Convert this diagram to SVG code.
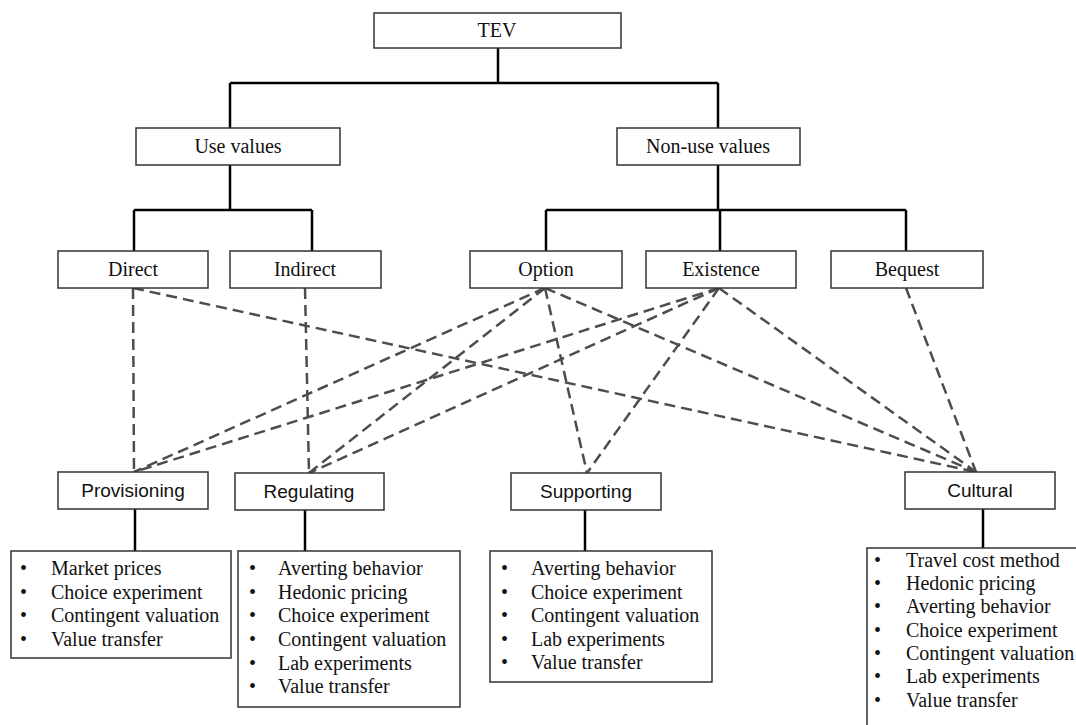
<svg xmlns="http://www.w3.org/2000/svg" width="1076" height="725" viewBox="0 0 1076 725">
<style>
.box{fill:#fff;stroke:#333;stroke-width:1.5}
.solid{fill:none;stroke:#000;stroke-width:2.5}
.dash{fill:none;stroke:#4d4d4d;stroke-width:2.5;stroke-dasharray:11 6}
.serif{font-family:"Liberation Serif","Times New Roman",serif;font-size:20px;fill:#111}
.sans{font-family:"Liberation Sans",Arial,sans-serif;font-size:19px;fill:#111}
.mid{text-anchor:middle}
</style>
<rect width="1076" height="725" fill="#fff"/>
<g id="connectors">
<path class="solid" d="M498 48V83M230 83H718M230 83V128M718 83V128"/>
<path class="solid" d="M230 165V210M134 210H312M134 210V251M312 210V251"/>
<path class="solid" d="M718 165V210M546 210H906M546 210V251M720 210V251M906 210V251"/>
<path class="solid" d="M135 509V551M305 510V551M585 510V551M983 509V548"/>
<g class="dash">
<line x1="133" y1="288" x2="134" y2="472"/>
<line x1="133" y1="288" x2="976" y2="472"/>
<line x1="305" y1="288" x2="309" y2="473"/>
<line x1="545" y1="288" x2="134" y2="472"/>
<line x1="545" y1="288" x2="309" y2="473"/>
<line x1="545" y1="288" x2="587" y2="473"/>
<line x1="545" y1="288" x2="976" y2="472"/>
<line x1="719" y1="288" x2="134" y2="472"/>
<line x1="719" y1="288" x2="309" y2="473"/>
<line x1="719" y1="288" x2="587" y2="473"/>
<line x1="719" y1="288" x2="976" y2="472"/>
<line x1="906" y1="288" x2="976" y2="472"/>
</g>
</g>
<g id="tev"><rect class="box" x="374" y="13" width="247" height="35"/><text class="serif mid" x="497" y="37">TEV</text></g>
<g id="use-values"><rect class="box" x="136" y="128" width="204" height="37"/><text class="serif mid" x="238" y="153">Use values</text></g>
<g id="non-use-values"><rect class="box" x="617" y="128" width="183" height="37"/><text class="serif mid" x="708" y="153">Non-use values</text></g>
<g id="direct"><rect class="box" x="58" y="251" width="150" height="37"/><text class="serif mid" x="133" y="276">Direct</text></g>
<g id="indirect"><rect class="box" x="230" y="251" width="151" height="37"/><text class="serif mid" x="305" y="276">Indirect</text></g>
<g id="option"><rect class="box" x="470" y="251" width="152" height="37"/><text class="serif mid" x="546" y="276">Option</text></g>
<g id="existence"><rect class="box" x="646" y="251" width="150" height="37"/><text class="serif mid" x="721" y="276">Existence</text></g>
<g id="bequest"><rect class="box" x="831" y="251" width="152" height="37"/><text class="serif mid" x="907" y="276">Bequest</text></g>
<g id="provisioning"><rect class="box" x="58" y="472" width="150" height="37"/><text class="sans mid" x="133" y="497">Provisioning</text></g>
<g id="regulating"><rect class="box" x="235" y="473" width="149" height="37"/><text class="sans mid" x="309" y="498">Regulating</text></g>
<g id="supporting"><rect class="box" x="511" y="473" width="150" height="37"/><text class="sans mid" x="586" y="498">Supporting</text></g>
<g id="cultural"><rect class="box" x="905" y="472" width="150" height="37"/><text class="sans mid" x="980" y="497">Cultural</text></g>
<g id="provisioning-methods"><rect class="box" x="11" y="551" width="220" height="107"/>
<g class="serif"><text x="20" y="575">•</text><text x="51" y="575">Market prices</text><text x="20" y="599">•</text><text x="51" y="599">Choice experiment</text><text x="20" y="622">•</text><text x="51" y="622">Contingent valuation</text><text x="20" y="646">•</text><text x="51" y="646">Value transfer</text></g></g>
<g id="regulating-methods"><rect class="box" x="238" y="551" width="222" height="156"/>
<g class="serif"><text x="249" y="575">•</text><text x="278" y="575">Averting behavior</text><text x="249" y="599">•</text><text x="278" y="599">Hedonic pricing</text><text x="249" y="622">•</text><text x="278" y="622">Choice experiment</text><text x="249" y="646">•</text><text x="278" y="646">Contingent valuation</text><text x="249" y="670">•</text><text x="278" y="670">Lab experiments</text><text x="249" y="693">•</text><text x="278" y="693">Value transfer</text></g></g>
<g id="supporting-methods"><rect class="box" x="490" y="551" width="222" height="131"/>
<g class="serif"><text x="501" y="575">•</text><text x="531" y="575">Averting behavior</text><text x="501" y="599">•</text><text x="531" y="599">Choice experiment</text><text x="501" y="622">•</text><text x="531" y="622">Contingent valuation</text><text x="501" y="646">•</text><text x="531" y="646">Lab experiments</text><text x="501" y="669">•</text><text x="531" y="669">Value transfer</text></g></g>
<g id="cultural-methods"><rect class="box" x="867" y="548" width="230" height="200"/>
<g class="serif"><text x="874" y="567">•</text><text x="906" y="567">Travel cost method</text><text x="874" y="590">•</text><text x="906" y="590">Hedonic pricing</text><text x="874" y="613">•</text><text x="906" y="613">Averting behavior</text><text x="874" y="637">•</text><text x="906" y="637">Choice experiment</text><text x="874" y="660">•</text><text x="906" y="660">Contingent valuation</text><text x="874" y="683">•</text><text x="906" y="683">Lab experiments</text><text x="874" y="707">•</text><text x="906" y="707">Value transfer</text></g></g>
</svg>
